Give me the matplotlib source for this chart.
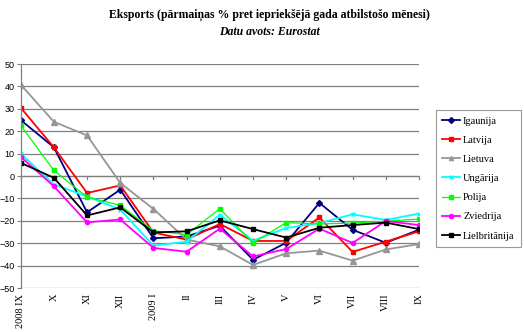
import matplotlib
matplotlib.use("Agg")
import matplotlib.pyplot as plt
import numpy as np

months = ["2008 IX", "X", "XI", "XII", "2009 I", "II", "III", "IV", "V", "VI", "VII", "VIII", "IX"]

igaunija = [25, 12.8, -16.2, -6.1, -27.8, -27.0, -22.2, -37.4, -29.8, -12.0, -24.0, -29.8, -24.0]
latvija = [30.5, 12.8, -7.6, -4.2, -25.2, -28.4, -21.4, -29.0, -29.0, -18.5, -33.9, -29.3, -24.7]
lietuva = [40.8, 24.2, 18.1, -3.1, -14.7, -28.4, -31.4, -39.7, -34.5, -33.3, -37.8, -32.8, -30.4]
ungarija = [10.0, -3.8, -9.1, -15.0, -31.1, -29.3, -17.3, -28.9, -23.2, -21.0, -17.1, -19.6, -16.8]
polija = [22.6, 2.5, -9.4, -13.1, -24.4, -26.2, -14.6, -29.9, -20.8, -21.4, -21.0, -20.2, -19.2]
zviedrija = [8.6, -4.6, -20.7, -19.4, -32.1, -33.8, -23.5, -35.9, -32.6, -23.5, -29.9, -20.1, -21.9]
lielbritanija = [5.9, -0.8, -17.6, -14.0, -25.2, -24.7, -19.8, -23.7, -27.5, -23.1, -21.9, -20.8, -23.7]

series = [
    ("Igaunija", igaunija, "#000080", "D", 3.0, 1.3),
    ("Latvija", latvija, "#FF0000", "s", 3.5, 1.3),
    ("Lietuva", lietuva, "#969696", "^", 4.0, 1.3),
    ("Ungārija", ungarija, "#00FFFF", "x", 3.5, 1.3),
    ("Polija", polija, "#00FF00", "s", 3.5, 0.9),
    ("Zviedrija", zviedrija, "#FF00FF", "o", 3.0, 1.3),
    ("Lielbritānija", lielbritanija, "#000000", "s", 3.5, 1.3),
]

fig = plt.figure(figsize=(5.24, 3.32), dpi=100)
ax = fig.add_axes([0.0395, 0.1325, 0.760, 0.6747])

x = np.arange(len(months))
for name, vals, color, marker, ms, lw in series:
    ax.plot(x, vals, color=color, marker=marker, markersize=ms, linewidth=lw,
            markeredgecolor=color, markerfacecolor=color, markeredgewidth=1.0,
            label=name)

ax.set_xlim(0, len(months) - 1)
ax.set_ylim(-50, 50)
ax.set_yticks(np.arange(-50, 51, 10))
ax.yaxis.grid(True, color="#808080", linewidth=0.9)
ax.set_axisbelow(True)

for s in ["top", "right", "bottom"]:
    ax.spines[s].set_visible(False)
ax.spines["left"].set_color("#808080")
ax.spines["left"].set_linewidth(0.9)

# category axis drawn through zero, labels kept at the bottom
ax.axhline(0, color="#808080", linewidth=0.9, zorder=1)
ax.set_xticks(x)
ax.tick_params(axis="x", length=0, pad=4)
ax.set_xticklabels(months, rotation=90, fontfamily="Liberation Serif", fontsize=7.5,
                   va="top", ha="center")
for xi in x:
    ax.plot([xi, xi], [0, -1.4], color="#808080", linewidth=0.9, zorder=1,
            clip_on=False)

ax.tick_params(axis="y", length=3, color="#808080", pad=1.5, labelsize=6.5)
for lbl in ax.get_yticklabels():
    lbl.set_fontfamily("Liberation Sans")

fig.text(0.515, 0.955, "Eksports (pārmaiņas % pret iepriekšējā gada atbilstošo mēnesi)",
         ha="center", va="center", fontfamily="Liberation Serif", fontweight="bold",
         fontsize=8.5)
fig.text(0.515, 0.905, "Datu avots: Eurostat", ha="center", va="center",
         fontfamily="Liberation Serif", fontweight="bold", fontstyle="italic",
         fontsize=8.5)

leg = fig.legend(loc="upper left", bbox_to_anchor=(436 / 524, 1 - 110 / 332),
                 prop={"family": "Liberation Serif", "size": 7.5},
                 frameon=True, fancybox=False, edgecolor="#808080",
                 handlelength=1.7, handletextpad=0.3, borderpad=0.6,
                 labelspacing=0.95, borderaxespad=0)
leg.get_frame().set_linewidth(0.8)
for h in leg.legend_handles:
    h.set_markersize(3)

fig.savefig("out.png", dpi=100)
